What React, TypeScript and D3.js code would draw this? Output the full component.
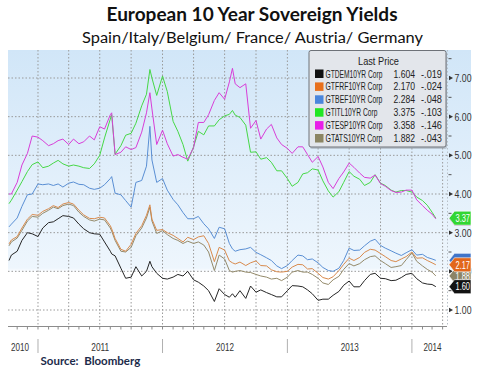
import React from 'react';
import * as d3 from 'd3';

const W = 478;
const H = 374;

// semi-monthly closes, with a few extra days on the big spikes
const dates = [
  '2010-10-08', '2010-10-15', '2010-11-01', '2010-11-15', '2010-12-01', '2010-12-15',
  '2011-01-01', '2011-01-15', '2011-02-01', '2011-02-15', '2011-03-01', '2011-03-15',
  '2011-04-01', '2011-04-15', '2011-05-01', '2011-05-15', '2011-06-01', '2011-06-15',
  '2011-07-01', '2011-07-15', '2011-08-01', '2011-08-05', '2011-08-15', '2011-09-01',
  '2011-09-15', '2011-10-01', '2011-10-15', '2011-11-01', '2011-11-15', '2011-11-25',
  '2011-12-01', '2011-12-15',
  '2012-01-01', '2012-01-15', '2012-02-01', '2012-02-15', '2012-03-01', '2012-03-15',
  '2012-04-01', '2012-04-15', '2012-05-01', '2012-05-15', '2012-06-01', '2012-06-15',
  '2012-07-01', '2012-07-15', '2012-07-24', '2012-08-01', '2012-08-15', '2012-09-01',
  '2012-09-15', '2012-10-01', '2012-10-15', '2012-11-01', '2012-11-15', '2012-12-01',
  '2012-12-15',
  '2013-01-01', '2013-01-15', '2013-02-01', '2013-02-15', '2013-03-01', '2013-03-15',
  '2013-04-01', '2013-04-15', '2013-05-01', '2013-05-15', '2013-06-01', '2013-06-15',
  '2013-07-01', '2013-07-15', '2013-08-01', '2013-08-15', '2013-09-01', '2013-09-15',
  '2013-10-01', '2013-10-15', '2013-11-01', '2013-11-15', '2013-12-01', '2013-12-15',
  '2014-01-01', '2014-01-15', '2014-02-01', '2014-02-15', '2014-03-01', '2014-03-12',
]

const germany = [
  2.28, 2.42, 2.52, 2.8, 3.0, 2.97,
  2.9, 3.12, 3.26, 3.28, 3.36, 3.44, 3.42, 3.38, 3.22, 3.1, 3.0, 2.97, 2.96, 2.76, 2.52, 2.45, 2.4, 2.08, 1.82, 1.85, 2.12, 1.88, 2.0, 2.26, 2.12, 1.95,
  1.82, 1.8, 1.85, 1.92, 1.88, 2.0, 1.78, 1.72, 1.62, 1.5, 1.22, 1.55, 1.4, 1.33, 1.42, 1.33, 1.5, 1.3, 1.62, 1.46, 1.52, 1.45, 1.4, 1.34, 1.34,
  1.5, 1.63, 1.62, 1.6, 1.52, 1.42, 1.25, 1.28, 1.28, 1.38, 1.48, 1.64, 1.75, 1.6, 1.6, 1.76, 1.92, 1.95, 1.82, 1.81, 1.76, 1.77, 1.84, 1.92,
  1.95, 1.81, 1.7, 1.67, 1.66, 1.604,
]
const france = [
  2.71, 2.81, 2.9, 3.12, 3.35, 3.47,
  3.45, 3.55, 3.62, 3.7, 3.65, 3.74, 3.78, 3.74, 3.58, 3.46, 3.37, 3.36, 3.4, 3.38, 3.18, 3.1, 2.85, 2.57, 2.52, 2.7, 2.98, 3.18, 3.45, 3.72, 3.35, 3.06,
  3.08, 3.0, 2.93, 2.85, 2.76, 2.88, 2.82, 2.89, 2.92, 2.72, 2.25, 2.62, 2.55, 2.27, 2.22, 2.19, 2.24, 2.15, 2.22, 2.27, 2.15, 2.14, 2.04, 1.99, 1.98,
  2.0, 2.11, 2.18, 2.17, 2.06, 2.07, 1.95, 1.84, 1.8, 1.86, 2.02, 2.18, 2.34, 2.28, 2.36, 2.49, 2.57, 2.55, 2.46, 2.38, 2.28, 2.25, 2.32, 2.38,
  2.5, 2.34, 2.35, 2.28, 2.22, 2.17,
]
const belgium = [
  3.15, 3.22, 3.38, 3.68, 3.98, 4.0,
  4.26, 4.24, 4.26, 4.22, 4.26, 4.18, 4.28, 4.31, 4.25, 4.24, 4.15, 4.12, 4.15, 4.24, 4.4, 4.45, 4.02, 3.98, 3.83, 3.66, 4.3, 4.35, 4.72, 5.75, 4.88, 4.3,
  4.4, 4.1, 3.86, 3.72, 3.52, 3.36, 3.36, 3.42, 3.23, 3.1, 2.85, 3.14, 3.1, 2.72, 2.58, 2.52, 2.56, 2.58, 2.62, 2.49, 2.43, 2.35, 2.28, 2.14, 2.07,
  2.15, 2.28, 2.42, 2.4, 2.3, 2.32, 2.22, 2.1, 2.02, 2.0, 2.08, 2.28, 2.6, 2.54, 2.55, 2.66, 2.78, 2.83, 2.67, 2.6, 2.53, 2.47, 2.41, 2.48,
  2.56, 2.42, 2.44, 2.36, 2.32, 2.284,
]
const italy = [
  3.75, 3.84, 4.1, 4.32, 4.58, 4.76,
  4.83, 4.68, 4.72, 4.8, 4.87, 4.78, 4.72, 4.75, 4.72, 4.68, 4.66, 4.78, 5.0, 5.45, 5.94, 6.05, 5.03, 5.25, 5.52, 5.57, 5.83, 6.28, 6.58, 7.22, 7.0, 6.55,
  7.05, 6.65, 5.88, 5.62, 5.28, 4.85, 5.22, 5.62, 5.53, 5.76, 5.76, 5.92, 6.02, 6.06, 6.16, 6.04, 5.98, 5.78, 5.08, 5.09, 4.9, 4.94, 4.82, 4.6, 4.6,
  4.4, 4.2, 4.3, 4.52, 4.55, 4.65, 4.62, 4.34, 4.08, 3.92, 4.06, 4.3, 4.58, 4.46, 4.38, 4.22, 4.3, 4.5, 4.28, 4.22, 4.1, 4.05, 4.09, 4.09,
  4.05, 3.92, 3.83, 3.71, 3.53, 3.375,
]
const spain = [
  4.0, 4.0, 4.3, 4.75, 5.05, 5.5,
  5.47, 5.38, 5.25, 5.3, 5.38, 5.42, 5.28, 5.42, 5.3, 5.35, 5.5, 5.4, 5.74, 5.68, 6.05, 6.1, 5.02, 5.08, 5.22, 5.15, 5.2, 5.6, 6.1, 6.62, 6.2, 5.28,
  5.65, 5.3, 4.98, 5.02, 4.95, 4.9, 5.2, 5.85, 5.85, 6.05, 6.42, 6.62, 6.45, 6.9, 7.25, 6.85, 6.75, 6.85, 5.7, 5.9, 5.42, 5.68, 5.8, 5.45, 5.28,
  5.18, 5.05, 5.22, 5.22, 5.02, 4.82, 4.97, 4.7, 4.3, 4.14, 4.4, 4.57, 4.8, 4.69, 4.54, 4.43, 4.41, 4.49, 4.27, 4.2, 4.09, 4.04, 4.05, 4.1,
  4.1, 3.85, 3.7, 3.58, 3.48, 3.358,
]
const austria = [
  2.66, 2.76, 2.86, 3.06, 3.3, 3.42,
  3.4, 3.5, 3.58, 3.66, 3.62, 3.7, 3.74, 3.7, 3.53, 3.42, 3.33, 3.3, 3.35, 3.33, 3.12, 3.04, 2.8, 2.52, 2.5, 2.62, 2.92, 3.12, 3.38, 3.66, 3.3, 2.98,
  3.05, 2.95, 2.85, 2.8, 2.72, 2.78, 2.72, 2.76, 2.68, 2.5, 2.02, 2.42, 2.32, 2.02, 1.98, 2.0, 2.02, 1.98, 1.97, 1.92, 1.88, 1.85, 1.8, 1.82, 1.76,
  1.85, 1.98, 2.02, 1.98, 1.98, 1.92, 1.82, 1.7, 1.66, 1.78, 1.87, 2.05, 2.2, 2.14, 2.2, 2.3, 2.38, 2.4, 2.28, 2.2, 2.1, 2.12, 2.15, 2.3,
  2.48, 2.26, 2.14, 2.05, 1.98, 1.882,
]

const tickers = ['GTDEM10YR Corp', 'GTFRF10YR Corp', 'GTBEF10YR Corp', 'GTITL10YR Corp', 'GTESP10YR Corp', 'GTATS10YR Corp']
const lastPrices = ['1.604', '2.170', '2.284', '3.375', '3.358', '1.882']
const changes = ['-.019', '-.024', '-.048', '-.103', '-.146', '-.043']
const yTicks = [1, 2, 3, 4, 5, 6, 7]
const yMinor = [1.5, 2.5, 3.5, 4.5, 5.5, 6.5, 7.5]
const years = [2010, 2011, 2012, 2013, 2014]

const SANS = "'Liberation Sans', Arial, sans-serif"
const styles = {
  swatch: ['#111111', '#e8701c', '#4a86dc', '#22e622', '#e81ee8', '#8b8563'],
  line: ['#262626', '#d98a4c', '#5a8fd4', '#46d846', '#d83ed8', '#948a6a'],
  tag: ['#121212', '#e2661a', '#3f74c9', '#33d633', '#dd22dd', '#8c8466'],
  grid: '#9a9a9a',
  text: '#333333',
}

let ctx: CanvasRenderingContext2D | null = null
function measure(str: string, size: number) {
  if (!ctx) ctx = document.createElement('canvas').getContext('2d')
  if (!ctx) return str.length * size * 0.55
  ctx.font = `${size}px ${SANS}`
  return ctx.measureText(str).width
}

// the Bloomberg font is very condensed, so squeeze each text to the width it had
function NText(props: {
  x: number
  y: number
  len: number
  size?: number
  anchor?: string
  fill?: string
  children: string
}) {
  const size = props.size || 11
  const sx = props.len / measure(props.children, size)
  return (
    <text
      transform={`translate(${props.x},${props.y}) scale(${sx},1)`}
      textAnchor={props.anchor || 'start'}
      fontFamily={SANS}
      fontSize={size}
      fill={props.fill || '#222'}
    >
      {props.children}
    </text>
  )
}

export default function App() {
  const parse = d3.timeParse('%Y-%m-%d')
  const t = dates.map(d => parse(d) as Date)
  const values = [germany, france, belgium, italy, spain, austria]

  const left = 8
  const right = 447
  const top = 50
  const bottom = 326
  const stripRight = 471

  const x = d3
    .scaleTime()
    .domain([new Date(2010, 9, 1), new Date(2014, 3, 15)])
    .range([6.6, 447.4])
  const y = d3.scaleLinear().domain([1, 7]).range([310, 78])

  const line = d3
    .line<number>()
    .x((_, i) => x(t[i]))
    .y(v => y(v))

  const quarters = x.ticks(d3.timeMonth.every(3)).filter(d => x(d) > left + 1 && x(d) < right)
  const months = x.ticks(d3.timeMonth.every(1)).filter(d => x(d) >= left && x(d) <= right)
  const yearStarts = years.slice(1).map(yr => new Date(yr, 0, 1))

  // draw order of the lines, and of the value tags on the right
  const lineOrder = [5, 1, 2, 3, 4, 0]
  const tagOrder = [4, 3, 2, 5, 1, 0]
  // Spain's and Belgium's tags sit fully under Italy's and France's
  const tagHidden = [false, false, true, false, true, false]
  const tickerLen = [57, 57, 57, 52, 57, 57]

  const rowY = (i: number) => 73.5 + i * 12.9

  return (
    <svg width={W} height={H} style={{ position: 'absolute', left: 0, top: 0, background: '#fff' }}>
      <defs>
        <linearGradient id="bg" gradientUnits="userSpaceOnUse" x1="0" y1={top} x2="0" y2={bottom}>
          <stop offset="0" stopColor="#d1e6f8" />
          <stop offset="0.79" stopColor="#eef6fd" />
          <stop offset="0.805" stopColor="#ffffff" />
          <stop offset="1" stopColor="#ffffff" />
        </linearGradient>
      </defs>

      <text
        x={252}
        y={21}
        textAnchor="middle"
        fontFamily="Lato, 'Open Sans', sans-serif"
        fontWeight="bold"
        fontSize={19}
        textLength={291}
        lengthAdjust="spacingAndGlyphs"
        fill="#111"
      >
        European 10 Year Sovereign Yields
      </text>
      <text
        x={252.5}
        y={42.5}
        textAnchor="middle"
        fontFamily="Lato, 'Open Sans', sans-serif"
        fontSize={15.5}
        textLength={341}
        lengthAdjust="spacingAndGlyphs"
        fill="#111"
      >
        Spain/Italy/Belgium/ France/ Austria/ Germany
      </text>

      <rect x={left} y={top} width={stripRight - left} height={bottom - top} fill="url(#bg)" />

      {/* grid */}
      {yTicks.map(v => (
        <line
          key={'h' + v}
          x1={left}
          x2={right}
          y1={y(v)}
          y2={y(v)}
          stroke={styles.grid}
          strokeDasharray="1.5,2"
        />
      ))}
      {quarters.map(d => (
        <line
          key={'q' + d.getTime()}
          x1={x(d)}
          x2={x(d)}
          y1={top}
          y2={bottom}
          stroke={styles.grid}
          strokeDasharray="1.5,2"
        />
      ))}
      <line x1={right + 0.5} x2={right + 0.5} y1={top} y2={bottom} stroke="#b8c0c8" strokeDasharray="1.5,2" />

      {/* series */}
      {lineOrder.map(i => (
        <path key={tickers[i]} d={line(values[i]) || ''} fill="none" stroke={styles.line[i]} strokeWidth={1} />
      ))}

      {/* bottom axis */}
      <line x1={left} x2={right} y1={bottom + 0.5} y2={bottom + 0.5} stroke="#8c8c8c" />
      {months.map(d => (
        <line
          key={'m' + d.getTime()}
          x1={x(d)}
          x2={x(d)}
          y1={bottom}
          y2={bottom + 3.5}
          stroke="#8c8c8c"
        />
      ))}
      {yearStarts.map(d => (
        <line key={'y' + d.getTime()} x1={x(d)} x2={x(d)} y1={339} y2={353} stroke="#b0b0b0" />
      ))}
      {years.map(yr => {
        const a = Math.max(x(new Date(yr, 0, 1)), left)
        const b = Math.min(x(new Date(yr + 1, 0, 1)), right)
        const cx = yr === 2010 ? 20 : (a + b) / 2 + (yr === 2014 ? 3 : 0)
        return (
          <NText key={yr} x={cx} y={351} len={18} size={10.5} anchor="middle" fill={styles.text}>
            {String(yr)}
          </NText>
        )
      })}

      {/* right axis */}
      {yTicks.map(v => (
        <g key={'r' + v}>
          <path d={`M449,${y(v) - 2.2}L453,${y(v)}L449,${y(v) + 2.2}Z`} fill="#333" />
          <NText x={454.5} y={y(v) + 4} len={17} size={11.5} fill={styles.text}>
            {d3.format('.2f')(v)}
          </NText>
        </g>
      ))}
      {yMinor.map(v => (
        <line key={'n' + v} x1={448.5} x2={451.5} y1={y(v)} y2={y(v)} stroke="#555" />
      ))}

      {/* last value tags */}
      {tagOrder.map(i => {
        const cy = y(+lastPrices[i])
        return (
          <g key={'t' + i}>
            <path
              d={`M449,${cy}L454.5,${cy - 7}H471V${cy + 7}H454.5Z`}
              fill={styles.tag[i]}
              stroke="#ffffff"
              strokeWidth={0.6}
            />
            {!tagHidden[i] && (
              <NText x={455.5} y={cy + 3.8} len={14.5} size={10.5} fill="#ffffff">
                {lastPrices[i].slice(0, 4)}
              </NText>
            )}
          </g>
        )
      })}

      {/* legend */}
      <rect x={310} y={52} width={137} height={97} rx={2} fill="#9aa0a8" opacity={0.5} />
      <rect x={309} y={50.5} width={137} height={96.5} rx={2} fill="#e3e6eb" stroke="#6e7278" />
      <NText x={378.5} y={64.5} len={41} size={11.5} anchor="middle">
        Last Price
      </NText>
      {tickers.map((name, i) => (
        <g key={name}>
          <rect x={315} y={rowY(i) - 4} width={8.5} height={8.5} fill={styles.swatch[i]} />
          <NText x={325.5} y={rowY(i) + 4} len={tickerLen[i]} size={11.5}>
            {name}
          </NText>
          <NText x={415} y={rowY(i) + 4} len={21.5} size={11.5} anchor="end">
            {lastPrices[i]}
          </NText>
          <NText x={442} y={rowY(i) + 4} len={21} size={11.5} anchor="end">
            {changes[i]}
          </NText>
        </g>
      ))}

      <text x={40.5} y={365} fontFamily="Lato, 'Open Sans', sans-serif" fontWeight="bold" fontSize={11.5} fill="#1c2b4a">
        Source:{'\u00a0 '}Bloomberg
      </text>
    </svg>
  )
}
